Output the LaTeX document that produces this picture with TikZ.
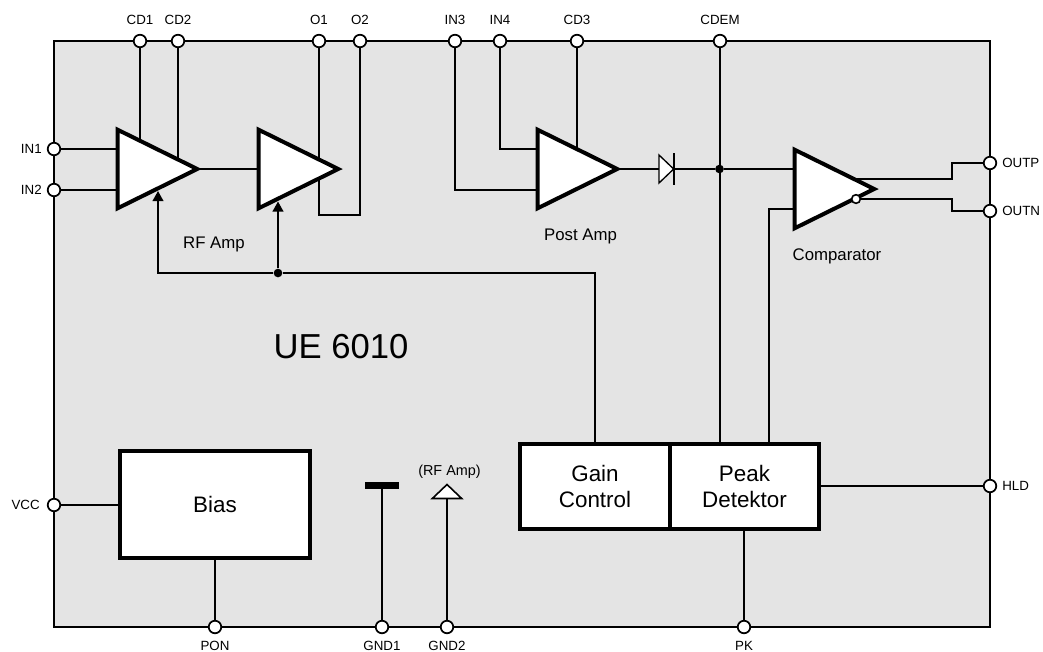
\documentclass[tikz,border=0pt]{standalone}
\usepackage{fontspec}
\setmainfont{Liberation Sans}
\usetikzlibrary{shapes.geometric,arrows.meta,calc}
\pgfdeclarelayer{chipbg}
\pgfdeclarelayer{wires}
\pgfsetlayers{chipbg,wires,main}
\tikzset{
  x=0.75pt,y=-0.75pt,
  chip/.style={draw=black,fill=chipgray,line width=1.5pt},
  wire/.style={draw=black,line width=1.3pt},
  pinc/.style={circle,draw=black,fill=white,line width=1.3pt,minimum size=9.4pt,inner sep=0pt,outer sep=0pt},
  bub/.style={circle,draw=black,fill=white,line width=1.2pt,minimum size=6.5pt,inner sep=0pt},
  dot/.style={circle,fill=black,minimum size=6.5pt,inner sep=0pt},
  amp/.style={isosceles triangle,isosceles triangle stretches,shape border rotate=0,draw=black,fill=white,
    line width=3pt,minimum height=59.8pt,minimum width=59pt,inner sep=0pt,outer sep=0pt,anchor=lower side,miter limit=10},
  blockb/.style={rectangle,draw=black,fill=white,line width=3pt,inner sep=0pt,outer sep=0pt,align=center,font=\fontsize{16.8}{20}\selectfont},
  plab/.style={font=\fontsize{10}{12}\selectfont,inner sep=0pt},
  lab/.style={font=\fontsize{12.6}{14}\selectfont,inner sep=0pt,anchor=base},
  ctl/.style={wire,-{Triangle[length=7.5pt,width=8pt]}},
}
\definecolor{chipgray}{RGB}{228,228,228}
\begin{document}
\begin{tikzpicture}
\useasboundingbox (0,0) rectangle (1043,651);
% pins
\foreach \n/\x in {CD1/140,CD2/178,O1/319,O2/360,IN3/455,IN4/500,CD3/577,CDEM/720}{
  \node[pinc] (\n) at (\x,41) {};
  \node[plab] (\n t) at (\x,20) {\n};
}
\foreach \n/\x in {PON/215,GND1/382,GND2/447,PK/744}{
  \node[pinc] (\n) at (\x,627) {};
  \node[plab] (\n t) at (\x,645.5) {\n};
}
\foreach \n/\y/\r in {IN1/149/42,IN2/190/42,VCC/505/40}{
  \node[pinc] (\n) at (54,\y) {};
  \node[plab,anchor=east] (\n t) at (\r,\y) {\n};
}
\foreach \n/\y in {OUTP/163,OUTN/211,HLD/486}{
  \node[pinc] (\n) at (990,\y) {};
  \node[plab,anchor=west] (\n t) at (1002,\y) {\n};
}
% amplifiers
\node[amp] (A1) at (117.5,169) {};
\node[amp] (A2) at (258.5,169) {};
\node[amp] (A3) at (537.5,169) {};
\node[amp] (A4) at (794.5,189) {};
% blocks
\node[blockb,minimum width=112.5pt,minimum height=64pt] (Gain) at (595,486.5) {Gain\\[-0.5pt]Control};
\node[blockb,minimum width=112pt,minimum height=64pt] (Peak) at (744.5,486.5) {Peak\\[-0.5pt]Detektor};
\node[blockb,minimum width=143pt,minimum height=80.6pt] (Bias) at (215,504.7) {Bias};
% diode
\node[isosceles triangle,isosceles triangle stretches,shape border rotate=0,draw=black,fill=white,line width=1pt,
  minimum height=11pt,minimum width=21pt,inner sep=0pt,outer sep=0pt,anchor=lower side] (Dio) at (659,169) {};
\coordinate (DioTop) at (674,153);
\coordinate (DioBot) at (674,185);
\draw[line width=1pt] (DioTop) -- (DioBot);
% ground symbols
\node[rectangle,fill=black,minimum width=25pt,minimum height=5.5pt,inner sep=0pt] (G1) at (382,485.5) {};
\node[isosceles triangle,isosceles triangle stretches,shape border rotate=90,draw=black,fill=white,line width=1.2pt,
  minimum height=10.5pt,minimum width=22pt,inner sep=0pt,outer sep=0pt,anchor=lower side] (G2) at (447,498.5) {};
% dots, bubble
\node[dot] (D1) at (278,273) {};
\node[dot] (D2) at (719.5,169) {};
\node[bub] (Bub) at (856,199) {};
% named free ends
\coordinate (A1c) at (158,191);
\coordinate (A2c) at (278,201.5);
\coordinate (GCk) at (595,273);
\coordinate (FBk) at (769,209);
\coordinate (A4t) at (848,179);
\coordinate (Pu) at (952,179);
\coordinate (Nu) at (952,199);
\coordinate (O1b) at (319,215);
\coordinate (O2b) at (360,215);
\coordinate (IN3b) at (455,190);
\coordinate (IN4b) at (500,149);
\coordinate (CD1e) at (140,160);
\coordinate (CD2e) at (178,170);
\coordinate (CD3e) at (577,170);
% labels
\node[lab] (LRF) at (214,248) {RF Amp};
\node[lab] (LPost) at (580.5,240) {Post Amp};
\node[lab] (LCmp) at (837,260.5) {Comparator};
\node[font=\fontsize{26}{30}\selectfont,inner sep=0pt] (LUE) at (341,347) {UE 6010};
\node[font=\fontsize{10.8}{12}\selectfont,inner sep=0pt,anchor=base] (LG2) at (449.5,475) {(RF Amp)};
\begin{pgfonlayer}{chipbg}
\coordinate (ChipA) at (54,41);
\coordinate (ChipB) at (990,627);
\draw[chip] (ChipA) rectangle (ChipB);
\end{pgfonlayer}
\begin{pgfonlayer}{wires}
\draw[wire] (CD1) -- (CD1e);
\draw[wire] (CD2) -- (CD2e);
\draw[wire] (IN1) -- (IN1 -| A1.lower side);
\draw[wire] (IN2) -- (IN2 -| A1.lower side);
\draw[wire] (A1.apex) -- (A2.lower side);
\draw[wire] (O1) -- (O1b) -- (O2b) -- (O2);
\draw[wire] (IN3) -- (IN3b) -- (IN3b -| A3.lower side);
\draw[wire] (IN4) -- (IN4b) -- (IN4b -| A3.lower side);
\draw[wire] (CD3) -- (CD3e);
\draw[wire] (A3.apex) -- (Dio.lower side);
\draw[wire] (DioTop |- Dio) -- (D2);
\draw[wire] (D2) -- (D2 -| A4.lower side);
\draw[wire] (CDEM) -- (CDEM |- Peak.north);
\draw[wire] (Peak.north -| FBk) -- (FBk) -- (FBk -| A4.lower side);
\draw[wire] (A4t) -- (Pu) -- (Pu |- OUTP) -- (OUTP);
\draw[wire] (Bub) -- (Nu) -- (Nu |- OUTN) -- (OUTN);
\draw[wire] (Gain.north) -- (GCk) -- (D1);
\draw[ctl] (D1) -- (A2c);
\draw[ctl] (D1) -- (D1 -| A1c) -- (A1c);
\draw[wire] (Peak.east |- HLD) -- (HLD);
\draw[wire] (PK |- Peak.south) -- (PK);
\draw[wire] (VCC) -- (Bias.west |- VCC);
\draw[wire] (PON |- Bias.south) -- (PON);
\draw[wire] (G1) -- (GND1);
\draw[wire] (G2.lower side) -- (GND2);
\end{pgfonlayer}
\end{tikzpicture}
\end{document}
